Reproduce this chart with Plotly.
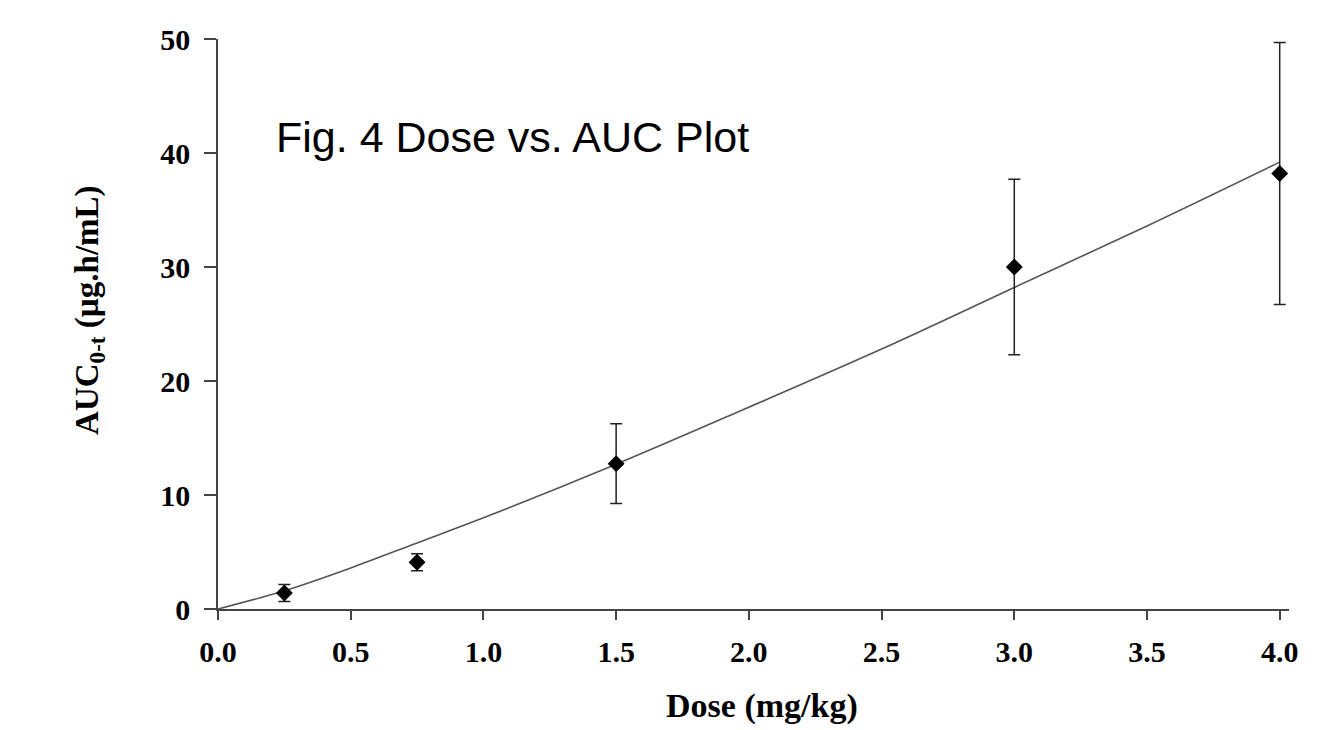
import plotly.graph_objects as go

dose = [0.25, 0.75, 1.5, 3.0, 4.0]
auc_mean = [1.4, 4.1, 12.75, 30.0, 38.2]
auc_sd = [0.75, 0.75, 3.5, 7.7, 11.5]

# Fitted curve
fit_dose = [0.0, 0.25, 0.5, 0.75, 1.0, 1.5, 2.0, 2.5, 3.0, 3.5, 4.0]
fit_auc = [0.0, 1.6, 3.6, 5.8, 8.0, 12.7, 17.7, 22.8, 28.2, 33.6, 39.2]

x_ticks = [0.0, 0.5, 1.0, 1.5, 2.0, 2.5, 3.0, 3.5, 4.0]
x_tick_text = ["0.0", "0.5", "1.0", "1.5", "2.0", "2.5", "3.0", "3.5", "4.0"]
y_ticks = [0, 10, 20, 30, 40, 50]

serif = "Liberation Serif, Times New Roman, serif"

fig = go.Figure()
fig.add_trace(go.Scatter(
    x=fit_dose, y=fit_auc, mode="lines", line=dict(color="#555555", width=1.6, shape="spline"),
    showlegend=False, hoverinfo="skip"))
fig.add_trace(go.Scatter(
    x=dose, y=auc_mean, mode="markers",
    marker=dict(symbol="diamond", size=13, color="black"),
    error_y=dict(type="data", array=auc_sd, visible=True, color="#222222", thickness=1.5, width=6),
    showlegend=False))

fig.add_annotation(
    x=0.212, y=41.4, xref="x", yref="y", xanchor="left", yanchor="middle",
    text="Fig. 4 Dose vs. AUC Plot", showarrow=False,
    font=dict(family="Liberation Sans, Arial, sans-serif", size=43, color="black"))

# Axis titles as annotations for precise placement
fig.add_annotation(
    x=0.508, y=-0.207, xref="paper", yref="paper", xanchor="center", yanchor="bottom",
    text="<b>Dose (mg/kg)</b>", showarrow=False,
    font=dict(family=serif, size=34, color="black"))
fig.add_annotation(
    x=-0.1195, y=0.523, xref="paper", yref="paper", xanchor="center", yanchor="middle",
    text="<b>AUC<sub>0-t</sub> (µg.h/mL)</b>", showarrow=False, textangle=-90,
    font=dict(family=serif, size=33, color="black"))

fig.update_layout(
    width=1318, height=730,
    margin=dict(l=210, r=37, t=31, b=129),
    paper_bgcolor="white", plot_bgcolor="white",
    font=dict(family=serif, color="black"),
)
fig.update_xaxes(
    range=[0, 4.035], tickvals=x_ticks, ticktext=x_tick_text,
    showgrid=False, zeroline=False, automargin=False,
    showline=True, linecolor="#444444", linewidth=1.5,
    ticks="outside", ticklen=9, tickwidth=1.5, tickcolor="#444444",
    tickfont=dict(family=serif, size=30, color="black", weight="bold"),
    ticklabelstandoff=6,
)
fig.update_yaxes(
    range=[0, 50], tickvals=y_ticks,
    showgrid=False, zeroline=False, automargin=False,
    showline=True, linecolor="#444444", linewidth=1.5,
    ticks="outside", ticklen=12, tickwidth=1.5, tickcolor="#444444",
    tickfont=dict(family=serif, size=30, color="black", weight="bold"),
    ticklabelstandoff=8,
)

fig.write_html("out.html")
